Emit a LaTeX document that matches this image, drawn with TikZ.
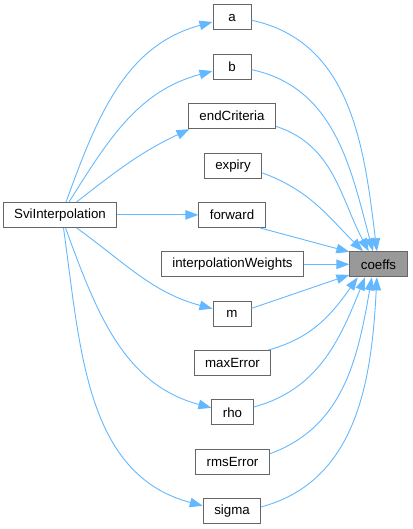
\documentclass[tikz,border=0pt]{standalone}
\usepackage{fontspec}
\setmainfont{Liberation Sans}
\usetikzlibrary{arrows.meta}
\definecolor{edgeBlue}{RGB}{99,184,255}
\definecolor{boxBorder}{RGB}{102,102,102}
\definecolor{boxFocus}{RGB}{153,153,153}

\begin{document}
\begin{tikzpicture}[x=1pt, y=-1pt,
    fnbox/.style={draw=boxBorder, line width=1pt, fill=white,
      minimum width=38pt, minimum height=25pt, inner xsep=11pt, inner ysep=0pt,
      font=\fontsize{13.3}{15}\selectfont},
    focusbox/.style={fnbox, fill=boxFocus},
    call/.style={edgeBlue, line width=0.9pt, -{Triangle[length=13pt,width=9.5pt]}}]
  \useasboundingbox (0,0) rectangle (412,529);

  % callees of coeffs
  \node[fnbox] (a) at (232,17.5) {a};
  \node[fnbox] (b) at (232,66.9) {b};
  \node[fnbox] (endcrit) at (232,116.2) {endCriteria};
  \node[fnbox] (expiry) at (233,165.6) {expiry};
  \node[fnbox] (fwd) at (232,214.9) {forward};
  \node[fnbox] (weights) at (232.5,264.3) {interpolationWeights};
  \node[fnbox] (m) at (232,313.6) {m};
  \node[fnbox] (maxerr) at (232.5,363) {maxError};
  \node[fnbox] (rho) at (232.5,412.3) {rho};
  \node[fnbox] (rmserr) at (232.5,461.7) {rmsError};
  \node[fnbox] (sigma) at (232,511) {sigma};

  % caller and focus
  \node[fnbox] (svi) at (60,214.9) {SviInterpolation};
  \node[focusbox] (coeffs) at (378.5,264.3) {coeffs};

  % SviInterpolation calls
  \draw[call] (svi.65) to[out=70,in=195] (a.193);
  \draw[call] (svi.55) to[out=58,in=195] (b.192);
  \draw[call] (svi.38) to[out=38,in=205] (endcrit.197);
  \draw[call] (svi.east) -- (fwd.west);
  \draw[call] (svi.-38) to[out=-36,in=165] (m.166);
  \draw[call] (svi.-67) to[out=-70,in=165] (rho.168);
  \draw[call] (svi.-75) to[out=-82,in=165] (sigma.170);

  % everything calls coeffs
  \draw[call] (a.-8) to[out=-12,in=97] (coeffs.97);
  \draw[call] (b.-8) to[out=-12,in=105] (coeffs.113);
  \draw[call] (endcrit.-13) to[out=-18,in=118] (coeffs.127);
  \draw[call] (expiry.-14) to[out=-20,in=135] (coeffs.140);
  \draw[call] (fwd.-25) -- (coeffs.157);
  \draw[call] (weights.east) -- (coeffs.west);
  \draw[call] (m.15) -- (coeffs.200);
  \draw[call] (maxerr.20) to[out=15,in=-125] (coeffs.212);
  \draw[call] (rho.14) to[out=15,in=-112] (coeffs.224);
  \draw[call] (rmserr.12) to[out=20,in=-100] (coeffs.243);
  \draw[call] (sigma.8) to[out=15,in=-93] (coeffs.263);
\end{tikzpicture}
\end{document}
